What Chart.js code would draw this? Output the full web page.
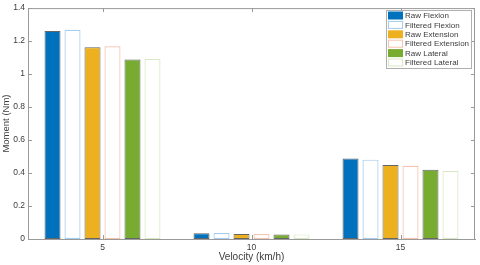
<!DOCTYPE html>
<html>
<head>
<meta charset="utf-8">
<script src="https://cdn.jsdelivr.net/npm/chart.js@4.4.1/dist/chart.umd.min.js"></script>
<style>
    html, body { margin: 0; padding: 0; background: #fff; }
    #wrap { width: 480px; height: 265px; }
</style>
</head>
<body>
<div id="wrap"><canvas id="momentChart"></canvas></div>
<script>
// Velocity categories
const velocities = ['5', '10', '15'];
const yTicks = [0, 0.2, 0.4, 0.6, 0.8, 1, 1.2, 1.4];

// Moment values (Nm) per velocity
const rawFlexion = [1.261, 0.035, 0.488];
const filteredFlexion = [1.268, 0.036, 0.481];
const rawExtension = [1.163, 0.031, 0.448];
const filteredExtension = [1.168, 0.030, 0.444];
const rawLateral = [1.088, 0.027, 0.420];
const filteredLateral = [1.092, 0.028, 0.413];

const seriesNames = ['Raw Flexion', 'Filtered Flexion', 'Raw Extension',
    'Filtered Extension', 'Raw Lateral', 'Filtered Lateral'];

const FONT = '"Liberation Sans", Arial, sans-serif';
const TEXT = '#3c3c3c';
const AXIS = '#9a9a9a';

function rawSet(label, data, color) {
    return {
        label: label,
        data: data,
        backgroundColor: color,
        borderColor: 'rgba(50,50,50,0.75)',
        borderWidth: 1,
        borderSkipped: false
    };
}

function filteredSet(label, data, edge) {
    return {
        label: label,
        data: data,
        backgroundColor: '#ffffff',
        borderColor: edge,
        borderWidth: 1.2,
        borderSkipped: false
    };
}

// box, inward ticks and the legend inside the axes (MATLAB look)
const matlabAxes = {
    id: 'matlabAxes',
    afterDraw(chart) {
        const ctx = chart.ctx;
        const a = chart.chartArea;
        const y = chart.scales.y;
        const x = chart.scales.x;
        ctx.save();
        ctx.strokeStyle = AXIS;
        ctx.lineWidth = 1;
        ctx.beginPath();
        ctx.moveTo(a.left, a.top + 0.5);
        ctx.lineTo(a.right, a.top + 0.5);
        ctx.moveTo(a.right - 0.5, a.top);
        ctx.lineTo(a.right - 0.5, a.bottom);
        yTicks.forEach(v => {
            const py = Math.round(y.getPixelForValue(v)) + 0.5;
            ctx.moveTo(a.left, py);
            ctx.lineTo(a.left + 4, py);
            ctx.moveTo(a.right, py);
            ctx.lineTo(a.right - 4, py);
        });
        velocities.forEach((c, i) => {
            const px = Math.round(x.getPixelForValue(i)) + 0.5;
            ctx.moveTo(px, a.bottom);
            ctx.lineTo(px, a.bottom - 4);
            ctx.moveTo(px, a.top);
            ctx.lineTo(px, a.top + 4);
        });
        ctx.stroke();

        // legend
        const lx = 386, ly = 10, lw = 85, lh = 58;
        ctx.fillStyle = '#fff';
        ctx.fillRect(lx, ly, lw, lh);
        ctx.strokeStyle = '#b0b0b0';
        ctx.strokeRect(lx + 0.5, ly + 0.5, lw, lh);
        ctx.font = '8px ' + FONT;
        ctx.textBaseline = 'middle';
        chart.data.datasets.forEach((ds, i) => {
            const cy = 15.5 + i * 9.4;
            ctx.fillStyle = ds.backgroundColor;
            ctx.fillRect(388, cy - 4, 15, 8);
            if (ds.backgroundColor === '#ffffff') {
                ctx.strokeStyle = ds.borderColor;
                ctx.strokeRect(388.5, cy - 3.5, 14, 7);
            }
            ctx.fillStyle = TEXT;
            ctx.fillText(ds.label, 405, cy + 0.5);
        });
        ctx.restore();
    }
};

new Chart(document.getElementById('momentChart'), {
    type: 'bar',
    data: {
        labels: velocities,
        datasets: [
            rawSet(seriesNames[0], rawFlexion, '#0072BD'),
            filteredSet(seriesNames[1], filteredFlexion, '#a4cdee'),
            rawSet(seriesNames[2], rawExtension, '#EDB120'),
            filteredSet(seriesNames[3], filteredExtension, '#f5c2ae'),
            rawSet(seriesNames[4], rawLateral, '#77AC30'),
            filteredSet(seriesNames[5], filteredLateral, '#d8e8c3')
        ]
    },
    options: {
        responsive: true,
        maintainAspectRatio: false,
        animation: false,
        datasets: {
            bar: {
                categoryPercentage: 0.805,
                barPercentage: 0.8
            }
        },
        layout: {
            padding: { top: 6, right: 5, left: 0, bottom: 0 }
        },
        scales: {
            x: {
                grid: { display: false, drawTicks: false },
                border: { display: true, color: AXIS, width: 1 },
                ticks: {
                    padding: 4,
                    color: TEXT,
                    font: { family: FONT, size: 8.5 }
                },
                title: {
                    display: true,
                    text: 'Velocity (km/h)',
                    color: TEXT,
                    padding: { top: 0, bottom: 2 },
                    font: { family: FONT, size: 10 }
                },
                afterFit: function(scale) { scale.height = 26; }
            },
            y: {
                min: 0,
                max: 1.4,
                grid: { display: false, drawTicks: false },
                border: { display: true, color: AXIS, width: 1 },
                ticks: {
                    stepSize: 0.2,
                    padding: 3,
                    color: TEXT,
                    font: { family: FONT, size: 8.5 },
                    callback: function(value) {
                        return Math.round(value * 10) / 10;
                    }
                },
                title: {
                    display: true,
                    text: 'Moment (Nm)',
                    color: TEXT,
                    padding: { top: 1, bottom: 0 },
                    font: { family: FONT, size: 9.5 }
                },
                afterFit: function(scale) { scale.width = 28; }
            }
        },
        plugins: {
            legend: { display: false },
            tooltip: { enabled: false }
        }
    },
    plugins: [matlabAxes]
});
</script>
</body>
</html>
